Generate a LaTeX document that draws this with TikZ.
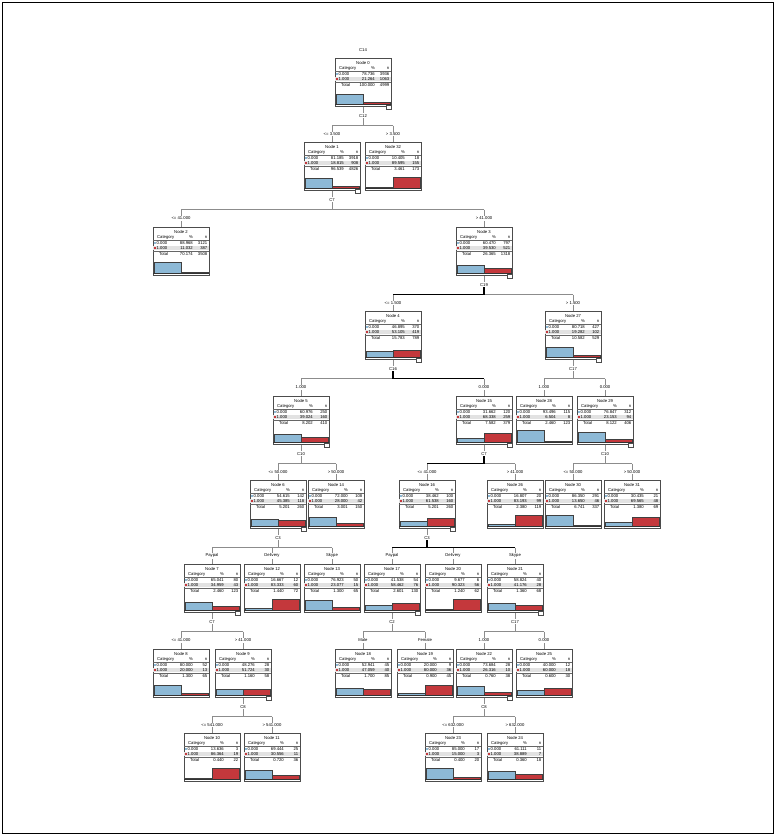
\documentclass[tikz,border=0pt]{standalone}
\usepackage{fontspec}
\setmainfont{Liberation Sans}
\usepackage{xcolor}
\usetikzlibrary{calc}
\definecolor{barblue}{RGB}{141,185,214}
\definecolor{barred}{RGB}{196,56,60}
\definecolor{rowgray}{RGB}{226,226,226}
\newcommand{\tinytxt}{\fontsize{4.2}{5}\selectfont}

\tikzset{
 edge/.style={draw=black!45, line width=0.6pt},
 hotedge/.style={draw=black, line width=1.4pt},
 nodebox/.style={draw=black!70, line width=0.6pt, fill=white, anchor=north, minimum width=56pt, minimum height=48pt, inner sep=0pt},
 boxtxt/.style={font=\tinytxt, inner sep=0pt},
 varlbl/.style={font=\tinytxt, fill=white, inner sep=0.8pt},
 brlbl/.style={font=\tinytxt, fill=white, inner sep=0.8pt},
 rule/.style={draw=black!60, line width=0.3pt},
 barline/.style={draw=black!75, line width=0.4pt},
 base/.style={draw=black!80, line width=1pt},
 iconbox/.style={draw=black!70, fill=white, line width=0.4pt}
}

% one tree node: number, x, top, % and n of 0.000, % and n of 1.000, total % and n
\newcommand{\treebox}[9]{%
\node[nodebox] (n#1) at (#2,#3) {};
\begin{scope}[shift={(#2,#3)}]
\fill[rowgray] (-27.6,18.7) rectangle (27.6,23.3);
\node[boxtxt] at (0,5) {Node #1};
\node[boxtxt,anchor=west] at (-24,10.5) {Category};
\node[boxtxt,anchor=east] at (12,10.5) {\%};
\node[boxtxt,anchor=east] at (26.5,10.5) {n};
\draw[rule] (-27.6,13.2) -- (27.6,13.2);
\fill[barblue] (-27,15.2) rectangle (-25.4,16.8);
\node[boxtxt,anchor=west] at (-24.5,16) {0.000};
\node[boxtxt,anchor=east] at (12,16) {#4};
\node[boxtxt,anchor=east] at (26.5,16) {#5};
\fill[barred] (-27,20.2) rectangle (-25.4,21.8);
\node[boxtxt,anchor=west] at (-24.5,21) {1.000};
\node[boxtxt,anchor=east] at (12,21) {#6};
\node[boxtxt,anchor=east] at (26.5,21) {#7};
\draw[rule] (-27.6,23.8) -- (27.6,23.8);
\node[boxtxt,anchor=west] at (-22,27.3) {Total};
\node[boxtxt,anchor=east] at (12,27.3) {#8};
\node[boxtxt,anchor=east] at (26.5,27.3) {#9};
\draw[barline,fill=barblue] (-27,46.5) rectangle (0,{46.5-0.13*#4});
\draw[barline,fill=barred] (0,46.5) rectangle (27,{46.5-0.13*#6});
\draw[base] (-28,46.8) -- (28,46.8);
\end{scope}}

% split variable under a node
\newcommand{\splitat}[2]{%
\draw[iconbox] ([shift={(-5pt,1.5pt)}]n#1.south east) rectangle ([shift={(-0.5pt,-3pt)}]n#1.south east);
\node[varlbl] (v#1) at ([yshift=-9pt]n#1.south) {#2};
\coordinate (h#1) at ([yshift=-19pt]n#1.south);
\draw[edge] (n#1) -- (v#1);
\draw[edge] (v#1) -- (h#1);}

\newcommand{\branch}[4][edge]{\draw[#1] (h#2 -| n#3) -- node[brlbl]{#4} (n#3);}

\begin{document}
\begin{tikzpicture}[x=1pt,y=-1pt]
\useasboundingbox (0,0) rectangle (776,836);
\draw[line width=1.2pt] (2.5,2.5) rectangle (773.5,833.5);

%% nodes, row by row
\treebox{0}{363}{58}{78.736}{3936}{21.264}{1063}{100.000}{4999}
\node[varlbl] (c14) at ([yshift=8pt]n0.north) {C14};

\treebox{1}{332}{142}{81.185}{3918}{18.815}{908}{96.539}{4826}
\treebox{32}{393}{142}{10.405}{18}{89.595}{155}{3.461}{173}

\treebox{2}{181}{227}{88.968}{3121}{11.032}{387}{70.174}{3508}
\treebox{3}{484}{227}{60.470}{797}{39.530}{521}{26.365}{1318}

\treebox{4}{393}{311}{46.895}{370}{53.105}{419}{15.783}{789}
\treebox{27}{573}{311}{80.718}{427}{19.282}{102}{10.582}{529}

\treebox{5}{301}{396}{60.976}{250}{39.024}{160}{8.202}{410}
\treebox{15}{484}{396}{31.662}{120}{68.338}{259}{7.582}{379}
\treebox{28}{544}{396}{93.496}{115}{6.504}{8}{2.460}{123}
\treebox{29}{605}{396}{76.847}{312}{23.153}{94}{8.122}{406}

\treebox{6}{278}{480}{54.615}{142}{45.385}{118}{5.201}{260}
\treebox{14}{336}{480}{72.000}{108}{28.000}{42}{3.001}{150}
\treebox{16}{427}{480}{38.462}{100}{61.538}{160}{5.201}{260}
\treebox{26}{515}{480}{16.807}{20}{83.193}{99}{2.380}{119}
\treebox{30}{573}{480}{86.350}{291}{13.650}{46}{6.741}{337}
\treebox{31}{632}{480}{30.435}{21}{69.565}{48}{1.380}{69}

\treebox{7}{212}{564}{65.041}{80}{34.959}{43}{2.460}{123}
\treebox{12}{272}{564}{16.667}{12}{83.333}{60}{1.440}{72}
\treebox{13}{332}{564}{76.923}{50}{23.077}{15}{1.300}{65}
\treebox{17}{392}{564}{41.538}{54}{58.462}{76}{2.601}{130}
\treebox{20}{453}{564}{9.677}{6}{90.323}{56}{1.240}{62}
\treebox{21}{515}{564}{58.824}{40}{41.176}{28}{1.360}{68}

\treebox{8}{181}{649}{80.000}{52}{20.000}{13}{1.300}{65}
\treebox{9}{243}{649}{48.276}{28}{51.724}{30}{1.160}{58}
\treebox{18}{363}{649}{52.941}{45}{47.059}{40}{1.700}{85}
\treebox{19}{425}{649}{20.000}{9}{80.000}{36}{0.900}{45}
\treebox{22}{484}{649}{73.684}{28}{26.316}{10}{0.760}{38}
\treebox{25}{544}{649}{40.000}{12}{60.000}{18}{0.600}{30}

\treebox{10}{212}{733}{13.636}{3}{86.364}{19}{0.440}{22}
\treebox{11}{272}{733}{69.444}{25}{30.556}{11}{0.720}{36}
\treebox{23}{453}{733}{85.000}{17}{15.000}{3}{0.400}{20}
\treebox{24}{515}{733}{61.111}{11}{38.889}{7}{0.360}{18}

%% splits
\splitat{0}{C12}
\draw[edge] (h0 -| n1) -- (h0 -| n32);
\branch{0}{1}{<= 3.500}
\branch{0}{32}{> 3.500}

\splitat{1}{C7}
\draw[edge] (h1 -| n2) -- (h1 -| n3);
\branch{1}{2}{<= 41.000}
\branch{1}{3}{> 41.000}

\splitat{3}{C19}
\draw[edge] (h3 -| n4) -- (h3 -| n27);
\draw[hotedge] (v3) -- (h3) -- (h3 -| n4);
\branch{3}{4}{<= 1.500}
\branch{3}{27}{> 1.500}

\splitat{4}{C16}
\draw[edge] (h4 -| n5) -- (h4 -| n15);
\draw[hotedge] (v4) -- (h4) -- (h4 -| n15);
\branch{4}{5}{1.000}
\branch{4}{15}{0.000}

\splitat{27}{C17}
\draw[edge] (h27 -| n28) -- (h27 -| n29);
\branch{27}{28}{1.000}
\branch{27}{29}{0.000}

\splitat{5}{C10}
\draw[edge] (h5 -| n6) -- (h5 -| n14);
\branch{5}{6}{<= 50.000}
\branch{5}{14}{> 50.000}

\splitat{15}{C7}
\draw[edge] (h15 -| n16) -- (h15 -| n26);
\draw[hotedge] (v15) -- (h15) -- (h15 -| n16);
\branch{15}{16}{<= 41.000}
\branch{15}{26}{> 41.000}

\splitat{29}{C10}
\draw[edge] (h29 -| n30) -- (h29 -| n31);
\branch{29}{30}{<= 50.000}
\branch{29}{31}{> 50.000}

\splitat{6}{C3}
\draw[edge] (h6 -| n7) -- (h6 -| n13);
\branch{6}{7}{Paypal}
\branch{6}{12}{Delivery}
\branch{6}{13}{Skype}

\splitat{16}{C3}
\draw[hotedge] (v16) -- (h16);
\draw[hotedge] (h16 -| n17) -- (h16 -| n21);
\branch{16}{17}{Paypal}
\branch{16}{20}{Delivery}
\branch{16}{21}{Skype}

\splitat{7}{C7}
\draw[edge] (h7 -| n8) -- (h7 -| n9);
\branch{7}{8}{<= 41.000}
\branch{7}{9}{> 41.000}

\splitat{17}{C2}
\draw[edge] (h17 -| n18) -- (h17 -| n19);
\branch{17}{18}{Male}
\branch{17}{19}{Female}

\splitat{21}{C17}
\draw[edge] (h21 -| n22) -- (h21 -| n25);
\branch{21}{22}{1.000}
\branch{21}{25}{0.000}

\splitat{9}{C8}
\draw[edge] (h9 -| n10) -- (h9 -| n11);
\branch{9}{10}{<= 541.000}
\branch{9}{11}{> 541.000}

\splitat{22}{C8}
\draw[edge] (h22 -| n23) -- (h22 -| n24);
\branch{22}{23}{<= 632.000}
\branch{22}{24}{> 632.000}
\end{tikzpicture}
\end{document}
